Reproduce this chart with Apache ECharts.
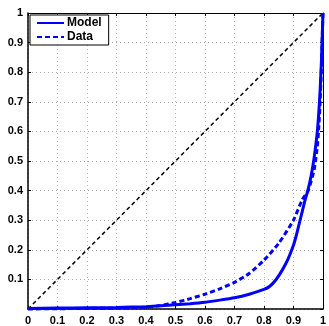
<!DOCTYPE html>
<html><head><meta charset="utf-8">
<script src="https://cdn.jsdelivr.net/npm/echarts@6/dist/echarts.min.js"></script>
<style>html,body{margin:0;padding:0;background:#fff}#c{width:329px;height:326px}</style>
</head><body><div id="c"></div>
<script>
var modelX = [0, 0.1, 0.2, 0.3, 0.4, 0.45, 0.5, 0.55, 0.6, 0.65, 0.7, 0.75, 0.8, 0.82, 0.84, 0.86, 0.88, 0.9, 0.91, 0.92, 0.93, 0.94, 0.95, 0.96, 0.97, 0.98, 0.985, 0.99, 0.995, 1.0];
var modelY = [0.002, 0.003, 0.004, 0.005, 0.008, 0.011, 0.014, 0.018, 0.023, 0.03, 0.038, 0.05, 0.066, 0.077, 0.098, 0.128, 0.165, 0.215, 0.25, 0.29, 0.33, 0.37, 0.405, 0.45, 0.51, 0.59, 0.65, 0.73, 0.84, 1.0];
var dataX = [0, 0.1, 0.2, 0.3, 0.4, 0.45, 0.5, 0.55, 0.6, 0.65, 0.7, 0.75, 0.8, 0.85, 0.9, 0.93, 0.95, 0.97, 0.98, 0.985, 0.99, 0.995, 1.0];
var dataY = [0.0, 0.001, 0.002, 0.003, 0.006, 0.012, 0.022, 0.035, 0.05, 0.068, 0.09, 0.12, 0.165, 0.222, 0.3, 0.37, 0.4, 0.47, 0.54, 0.6, 0.69, 0.82, 1.0];
var diagX = [0, 1];
var diagY = [0, 1];
var xTicks = [0, 0.1, 0.2, 0.3, 0.4, 0.5, 0.6, 0.7, 0.8, 0.9, 1];
var yTicks = [0.1, 0.2, 0.3, 0.4, 0.5, 0.6, 0.7, 0.8, 0.9, 1];

function pairs(xs, ys){ return xs.map(function(x,i){ return [x, ys[i]]; }); }
var fmt = function(v){ return String(Math.round(v*10)/10); };
var lblFont = {fontFamily:'Liberation Sans, Arial, sans-serif', fontWeight:'bold', fontSize:11, color:'#000'};

var chart = echarts.init(document.getElementById('c'), null, {renderer:'canvas'});
chart.setOption({
  animation:false,
  backgroundColor:'#fff',
  grid:{left:28, right:2, top:13, bottom:16, containLabel:false},
  legend:{
    data:['Model','Data'], orient:'vertical', left:30, top:15,
    itemWidth:27, itemHeight:14, itemGap:2, padding:[2,7,2,6],
    borderColor:'#000', borderWidth:1, backgroundColor:'#fff',
    itemStyle:{color:'transparent', borderColor:'transparent', borderWidth:0},
    textStyle:{fontFamily:'Liberation Sans, Arial, sans-serif', fontWeight:'bold', fontSize:12, color:'#000', padding:[0,0,0,-2]}
  },
  xAxis:[{
    type:'value', min:0, max:1, interval:0.1, position:'bottom',
    axisLine:{show:true, lineStyle:{color:'#000', width:1.5}},
    axisTick:{show:true, inside:true, length:3, lineStyle:{color:'#000'}},
    axisLabel:Object.assign({margin:6, formatter:function(v){ return xTicks.indexOf(Math.round(v*10)/10)>=0 ? fmt(v) : ''; }}, lblFont),
    splitLine:{show:true, lineStyle:{color:'#bbb', type:[1,3], width:1}}
  },{
    type:'value', min:0, max:1, interval:0.1, position:'top',
    axisLine:{show:true, onZero:false, lineStyle:{color:'#000', width:1}},
    axisTick:{show:true, inside:true, length:3, lineStyle:{color:'#000'}},
    axisLabel:{show:false}, splitLine:{show:false}
  }],
  yAxis:[{
    type:'value', min:0, max:1, interval:0.1, position:'left',
    axisLine:{show:true, lineStyle:{color:'#000', width:1.5}},
    axisTick:{show:true, inside:true, length:3, lineStyle:{color:'#000'}},
    axisLabel:Object.assign({margin:5, formatter:function(v){ var r=Math.round(v*10)/10; return yTicks.indexOf(r)>=0 ? fmt(v) : ''; }}, lblFont),
    splitLine:{show:true, lineStyle:{color:'#aaa', type:[1,3], width:1}}
  },{
    type:'value', min:0, max:1, interval:0.1, position:'right',
    axisLine:{show:true, onZero:false, lineStyle:{color:'#000', width:1}},
    axisTick:{show:true, inside:true, length:3, lineStyle:{color:'#000'}},
    axisLabel:{show:false}, splitLine:{show:false}
  }],
  series:[
    {name:'diag', type:'line', data:pairs(diagX, diagY), symbol:'none', silent:true,
     lineStyle:{color:'#000', width:1.5, type:[4,3]}, z:2},
    {name:'Model', type:'line', data:pairs(modelX, modelY), symbol:'none', smooth:0.2,
     lineStyle:{color:'#0000ff', width:3, type:'solid'}, itemStyle:{color:'#0000ff'}, z:3, clip:false},
    {name:'Data', type:'line', data:pairs(dataX, dataY), symbol:'none', smooth:0.2,
     lineStyle:{color:'#0000ff', width:3, type:[5,3]}, itemStyle:{color:'#0000ff'}, z:3, clip:false}
  ]
});
</script></body></html>
